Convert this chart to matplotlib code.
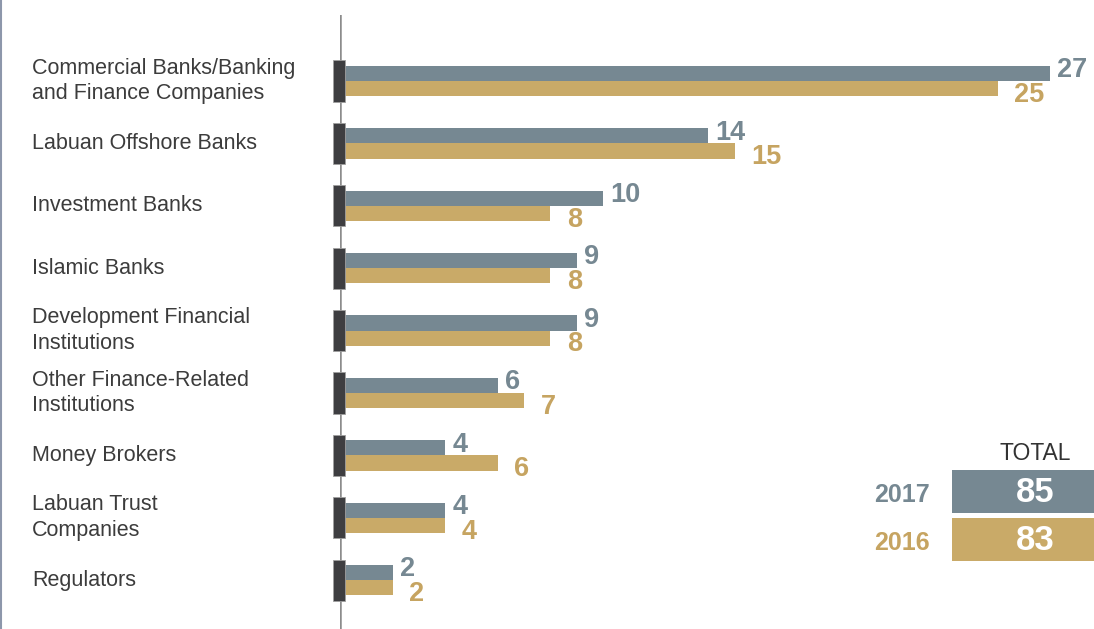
import matplotlib.pyplot as plt
import matplotlib.transforms as mtransforms
from matplotlib.patches import Rectangle
from matplotlib.lines import Line2D

plt.rcParams['font.family'] = ['Liberation Sans', 'DejaVu Sans']

categories = ["Commercial Banks/Banking\nand Finance Companies",
              "Labuan Offshore Banks",
              "Investment Banks",
              "Islamic Banks",
              "Development Financial\nInstitutions",
              "Other Finance-Related\nInstitutions",
              "Money Brokers",
              "Labuan Trust\nCompanies",
              "Regulators"]
v2017 = [27, 14, 10, 9, 9, 6, 4, 4, 2]
v2016 = [25, 15, 8, 8, 8, 7, 6, 4, 2]
years = ["2017", "2016"]

grey = "#768892"
gold = "#c9aa68"
gold_txt = "#c6a461"
dark = "#3e3e41"

W, H = 1094, 629
fig = plt.figure(figsize=(W / 100, H / 100), dpi=100)

# axes placed so that 0 sits on the vertical rule at x=340 px
px = 26.3
x0, x1 = 340, 340 + 28 * px
ax = fig.add_axes([x0 / W, 0, (x1 - x0) / W, (H - 15) / H])
ax.set_xlim(0, 28)
top = (15 - 81) / 62.4
bot = (629 - 81) / 62.4
ax.set_ylim(bot, top)
ax.axis('off')

ypos = list(range(len(categories)))
bh = 0.245
ax.barh([y - bh / 2 for y in ypos], v2017, height=bh, color=grey, zorder=2)
ax.barh([y + bh / 2 for y in ypos], v2016, height=bh, color=gold, zorder=2)

# dark caps over the axis
caps = ax.barh(ypos, [12 / px] * len(ypos), left=-7 / px, height=0.66, color=dark,
               edgecolor="#a0a0a0", linewidth=0.6, zorder=3)
for c in caps:
    c.set_clip_on(False)
ax.axvline(0, color="#8c8c8c", lw=1.8, zorder=1)

for y, a, b in zip(ypos, v2017, v2016):
    ax.annotate(str(a), (a, y - bh / 2 - 0.05), xytext=(5, 0), textcoords='offset points',
                ha='left', va='center', fontsize=19.5, fontweight='bold', color=grey)
    ax.annotate(str(b), (b, y + bh / 2 + 0.1), xytext=(12, 0), textcoords='offset points',
                ha='left', va='center', fontsize=19.5, fontweight='bold', color=gold_txt)

trans = mtransforms.blended_transform_factory(fig.transFigure, ax.transData)
for y, c in zip(ypos, categories):
    ax.text(32 / W, y, c, transform=trans, ha='left', va='center', fontsize=15.5,
            color="#3c3c3c", linespacing=1.3)

# totals panel
totals = [sum(v2017), sum(v2016)]
fig.text(1035 / W, 1 - 453 / H, "TOTAL", ha='center', va='center', fontsize=16.5,
         color="#333333")
for i, (yr, tot, col, tcol) in enumerate(zip(years, totals, [grey, gold], [grey, gold_txt])):
    ytop = 470 + i * 48
    fig.add_artist(Rectangle((952 / W, 1 - (ytop + 43) / H), (W - 952) / W, 43 / H,
                             transform=fig.transFigure, facecolor=col, edgecolor='none'))
    fig.text(1035 / W, 1 - (ytop + 22) / H, str(tot), ha='center', va='center',
             fontsize=25, fontweight='bold', color='white')
    fig.text(930 / W, 1 - (ytop + 25) / H, yr, ha='right', va='center',
             fontsize=18, fontweight='bold', color=tcol)

fig.add_artist(Line2D([1 / W, 1 / W], [0, 1], transform=fig.transFigure,
                      color="#8d97ab", lw=1.5))

fig.savefig("out.png", dpi=100)
